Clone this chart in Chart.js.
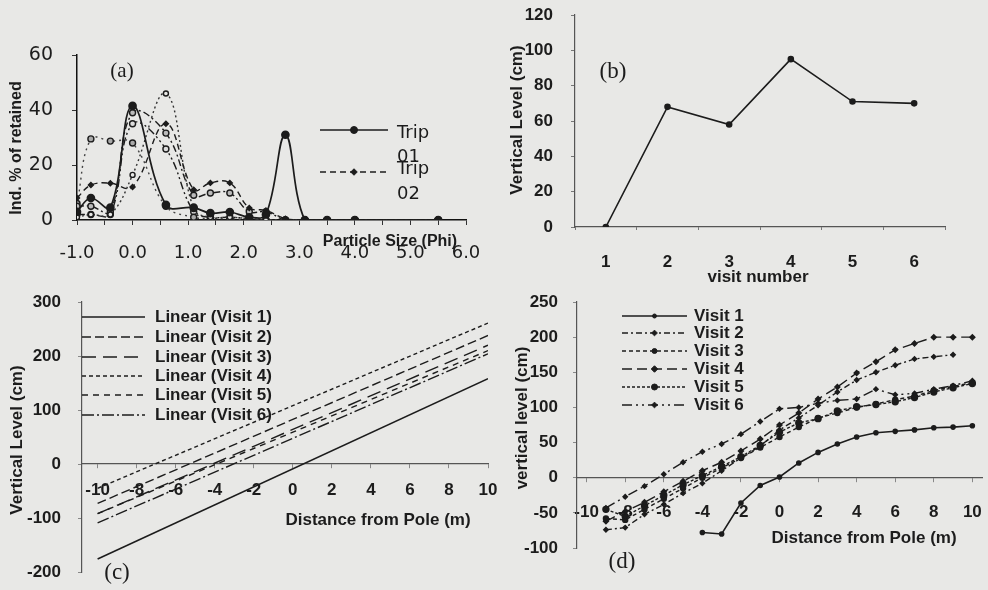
<!DOCTYPE html>
<html><head><meta charset="utf-8">
<script src="https://cdn.jsdelivr.net/npm/chart.js@4.4.1/dist/chart.umd.min.js"></script>
<style>
html,body{margin:0;padding:0;background:#e8e8e6;}
#wrap{position:relative;width:988px;height:590px;overflow:hidden;background:#e8e8e6;}
canvas{position:absolute;left:-40px;top:-40px;}
</style></head><body>
<div id="wrap">
<canvas id="ca" width="1068" height="670"></canvas>
<canvas id="cb" width="1068" height="670"></canvas>
<canvas id="cc" width="1068" height="670"></canvas>
<canvas id="cd" width="1068" height="670"></canvas>
</div>
<script>
// ---------- DATA ----------
// Panel (a): grain size distribution
const phiSizes = [-1.0, -0.75, -0.4, 0.0, 0.6, 1.1, 1.4, 1.75, 2.1, 2.4, 2.75, 3.1, 3.5, 4.0, 5.5];
const phiTicks = [-1, -0.5, 0, 0.5, 1, 1.5, 2, 2.5, 3, 3.5, 4, 4.5, 5, 5.5, 6];
const trip01 = [3, 8, 4.5, 41.5, 5.5, 4.5, 2.5, 2.9, 1, 2, 31, 0, 0, 0, 0];
const trip02 = [8, 12.7, 13.4, 12, 35, 11, 13.5, 13.5, 4.4, 3.5, 0.5, 0, 0, 0, 0];
const trip03 = [1, 2, 2, 16.4, 46, 4, 1, 1, 0.5, 0, 0, 0, 0, 0, 0];
const trip04 = [5, 5, 3, 39, 31.6, 9, 9.8, 9.8, 3, 3, 0, 0, 0, 0, 0];
const trip05 = [6, 29.5, 28.7, 28, 5, 1, 0.5, 0.5, 0, 0, 0, 0, 0, 0, 0];
const trip06 = [2, 2, 2, 35, 25.8, 3, 1, 1, 0.5, 0, 0, 0, 0, 0, 0];

// Panel (b): vertical level per visit
const visitNumbers = ['1', '2', '3', '4', '5', '6'];
const vertLevel = [0, 68, 58, 95, 71, 70];

// Panel (c): linear trend lines (values at both ends)
const trendX = [-10, 10];
const linear1 = [-176, 158];
const linear2 = [-73, 238];
const linear3 = [-92, 220];
const linear4 = [-45, 261];
const linear5 = [-92, 210];
const linear6 = [-109, 204];

// Panel (d): profiles
const distV1 = [-4, -3, -2, -1, 0, 1, 2, 3, 4, 5, 6, 7, 8, 9, 10];
const visit1 = [-78, -80, -36, -11, 1, 21, 36, 48, 58, 64, 66, 68, 71, 72, 74];
const distAll = [-9, -8, -7, -6, -5, -4, -3, -2, -1, 0, 1, 2, 3, 4, 5, 6, 7, 8, 9, 10];
const visit2 = [-74, -71, -52, -38, -22, -8, 10, 28, 45, 68, 85, 103, 122, 139, 150, 160, 169, 172, 175, null];
const visit3 = [-58, -60, -45, -30, -15, 0, 14, 28, 43, 58, 72, 85, 92, 100, 105, 111, 116, 124, 130, 135];
const visit4 = [-62, -48, -35, -20, -5, 10, 22, 38, 55, 75, 92, 112, 129, 149, 165, 182, 191, 200, 200, 200];
const visit5 = [-45, -55, -40, -25, -10, 3, 16, 30, 46, 65, 78, 84, 95, 101, 104, 108, 114, 122, 128, 134];
const visit6 = [-43, -27, -12, 5, 22, 37, 48, 62, 80, 98, 100, 106, 110, 112, 126, 118, 120, 126, 131, 138];

// ---------- HELPERS ----------
const OX = 40, OY = 40, CW = 1068, CH = 670;   // canvas offset/size (page coords + offset)
const INK = '#1c1c1c';
const BOLD = (s) => ({ family: '"Liberation Sans", Arial, sans-serif', weight: 'bold', size: s });
const pts = (xs, ys) => xs.map((x, i) => ({ x: x, y: ys[i] }));

function drawMarker(ctx, style, r, x, y, fill, stroke) {
  ctx.save();
  ctx.fillStyle = fill || stroke; ctx.strokeStyle = stroke; ctx.lineWidth = 1;
  ctx.beginPath();
  if (style === 'rectRot') {
    ctx.moveTo(x, y - r * 1.3); ctx.lineTo(x + r * 1.3, y); ctx.lineTo(x, y + r * 1.3); ctx.lineTo(x - r * 1.3, y); ctx.closePath();
  } else {
    ctx.arc(x, y, r, 0, Math.PI * 2);
  }
  ctx.fill(); ctx.stroke();
  ctx.restore();
}

const deco = {
  id: 'deco',
  afterDraw(chart, args, opts) {
    const ctx = chart.ctx;
    ctx.save();
    ctx.translate(OX, OY);
    (opts.texts || []).forEach(t => {
      ctx.save();
      ctx.font = t.font; ctx.fillStyle = INK;
      ctx.textAlign = t.align || 'center'; ctx.textBaseline = 'middle';
      ctx.translate(t.x, t.y);
      if (t.rot) ctx.rotate(t.rot);
      ctx.fillText(t.text, 0, 0);
      ctx.restore();
    });
    (opts.legend || []).forEach(it => {
      const ds = chart.data.datasets[it.ds];
      ctx.save();
      ctx.strokeStyle = ds.borderColor; ctx.lineWidth = ds.borderWidth;
      ctx.setLineDash(ds.borderDash || []);
      ctx.beginPath(); ctx.moveTo(it.x1, it.y); ctx.lineTo(it.x2, it.y); ctx.stroke();
      ctx.setLineDash([]);
      if (ds.pointRadius > 0) drawMarker(ctx, ds.pointStyle, ds.pointRadius, (it.x1 + it.x2) / 2, it.y, ds.pointBackgroundColor, ds.borderColor);
      ctx.font = it.font; ctx.fillStyle = INK; ctx.textAlign = 'left'; ctx.textBaseline = 'middle';
      const parts = it.split ? ds.label.split(' ') : [ds.label];
      const ys = it.ty || [it.y];
      parts.forEach((p, k) => ctx.fillText(p, it.tx, ys[k]));
      ctx.restore();
    });
    ctx.restore();
  }
};
Chart.register(deco);

// chart area given in page coordinates (left, top, right, bottom)
function pad(l, t, r, b, yW, xH) {
  return { left: l + OX - yW, top: t + OY, right: CW - (r + OX), bottom: CH - (b + OY) - xH };
}
const base = {
  responsive: false, animation: false, events: [],
  plugins: { legend: { display: false }, tooltip: { enabled: false } }
};
function lineDs(label, data, o) {
  return Object.assign({
    label: label, data: data, borderColor: INK, backgroundColor: INK,
    pointBackgroundColor: INK, pointBorderColor: INK, borderWidth: 1.4,
    pointRadius: 2.5, pointStyle: 'circle', tension: 0, fill: false
  }, o || {});
}

// ---------- PANEL (a) ----------
new Chart(document.getElementById('ca'), {
  type: 'line',
  data: {
    datasets: [
      lineDs('Trip 01', pts(phiSizes, trip01), { tension: 0.4, pointRadius: 3.5, borderWidth: 1.7 }),
      lineDs('Trip 02', pts(phiSizes, trip02), { tension: 0.4, borderDash: [6, 4], pointStyle: 'rectRot', pointRadius: 2.5 }),
      lineDs('Trip 03', pts(phiSizes, trip03), { tension: 0.4, borderDash: [2, 3], pointRadius: 2.5, pointBackgroundColor: '#e8e8e6', borderColor: '#333' }),
      lineDs('Trip 04', pts(phiSizes, trip04), { tension: 0.4, borderDash: [7, 3, 2, 3], pointRadius: 3, pointBackgroundColor: '#bbb' }),
      lineDs('Trip 05', pts(phiSizes, trip05), { tension: 0.4, borderDash: [2, 4], pointRadius: 3, pointBackgroundColor: '#aaa', borderColor: '#444' }),
      lineDs('Trip 06', pts(phiSizes, trip06), { tension: 0.4, borderDash: [8, 3, 2, 3, 2, 3], pointRadius: 3, pointBackgroundColor: '#ddd' })
    ]
  },
  options: Object.assign({}, base, {
    layout: { padding: pad(77, 55, 466, 220, 62, 50) },
    scales: {
      x: {
        type: 'linear', min: -1, max: 6,
        afterBuildTicks: s => { s.ticks = phiTicks.map(v => ({ value: v })); },
        afterFit: s => { s.height = 50; },
        grid: { drawOnChartArea: false, tickLength: 5, color: '#333' },
        border: { color: '#111', width: 1.5 },
        ticks: { autoSkip: false, maxRotation: 0, padding: 18, color: INK,
          font: { family: '"DejaVu Sans", sans-serif', size: 18 },
          callback: v => Number.isInteger(v) ? v.toFixed(1) : '' }
      },
      y: {
        min: 0, max: 60,
        afterBuildTicks: s => { s.ticks = [0, 20, 40, 60].map(v => ({ value: v })); },
        afterFit: s => { s.width = 62; },
        grid: { drawOnChartArea: false, tickLength: 5, color: '#333' },
        border: { color: '#111', width: 1.5 },
        ticks: { padding: 19, color: INK, font: { family: '"DejaVu Sans", sans-serif', size: 19 } }
      }
    },
    plugins: Object.assign({}, base.plugins, {
      deco: {
        texts: [
          { text: '(a)', x: 122, y: 71, font: '21px "Liberation Serif", serif' },
          { text: 'Ind. % of retained', x: 17, y: 148, rot: -Math.PI / 2, font: 'bold 16px "Liberation Sans", Arial' },
          { text: 'Particle Size (Phi)', x: 390, y: 242, font: 'bold 16px "Liberation Sans", Arial' }
        ],
        legend: [
          { ds: 0, x1: 320, x2: 388, y: 130, tx: 397, ty: [133, 157], split: true, font: '18px "DejaVu Sans", sans-serif' },
          { ds: 1, x1: 320, x2: 388, y: 172, tx: 397, ty: [169, 194], split: true, font: '18px "DejaVu Sans", sans-serif' }
        ]
      }
    })
  })
});

// ---------- PANEL (b) ----------
new Chart(document.getElementById('cb'), {
  type: 'line',
  data: {
    labels: visitNumbers,
    datasets: [lineDs('Vertical Level', vertLevel, { borderWidth: 1.6, pointRadius: 2.5 })]
  },
  options: Object.assign({}, base, {
    layout: { padding: pad(575, 15, 945, 227, 65, 45) },
    scales: {
      x: {
        type: 'category', offset: true,
        afterFit: s => { s.height = 45; },
        grid: { drawOnChartArea: false, offset: true, tickLength: 3, color: '#777' },
        border: { color: '#555', width: 1.2, dash: [6, 2, 1, 2] },
        ticks: { padding: 22, color: INK, font: BOLD(17) }
      },
      y: {
        min: 0, max: 120,
        afterBuildTicks: s => { s.ticks = [0, 20, 40, 60, 80, 100, 120].map(v => ({ value: v })); },
        afterFit: s => { s.width = 65; },
        grid: { drawOnChartArea: false, tickLength: 4, color: '#777' },
        border: { color: '#555', width: 1.2, dash: [6, 2, 1, 2] },
        ticks: { padding: 18, color: INK, font: BOLD(17) }
      }
    },
    plugins: Object.assign({}, base.plugins, {
      deco: {
        texts: [
          { text: '(b)', x: 613, y: 72, font: '23px "Liberation Serif", serif' },
          { text: 'Vertical Level (cm)', x: 517, y: 120, rot: -Math.PI / 2, font: 'bold 17px "Liberation Sans", Arial' },
          { text: 'visit number', x: 758, y: 277, font: 'bold 17px "Liberation Sans", Arial' }
        ]
      }
    })
  })
});

// ---------- PANEL (c) ----------
new Chart(document.getElementById('cc'), {
  type: 'line',
  data: {
    datasets: [
      lineDs('Linear (Visit 1)', pts(trendX, linear1), { pointRadius: 0, borderWidth: 1.6 }),
      lineDs('Linear (Visit 2)', pts(trendX, linear2), { pointRadius: 0, borderDash: [9, 4] }),
      lineDs('Linear (Visit 3)', pts(trendX, linear3), { pointRadius: 0, borderDash: [14, 7] }),
      lineDs('Linear (Visit 4)', pts(trendX, linear4), { pointRadius: 0, borderDash: [4, 3] }),
      lineDs('Linear (Visit 5)', pts(trendX, linear5), { pointRadius: 0, borderDash: [6, 5] }),
      lineDs('Linear (Visit 6)', pts(trendX, linear6), { pointRadius: 0, borderDash: [12, 3, 2, 3] })
    ]
  },
  options: Object.assign({}, base, {
    layout: { padding: pad(82, 302, 488, 572, 70, 0) },
    scales: {
      x: {
        type: 'linear', min: -10.8, max: 10, position: { y: 0 },
        afterBuildTicks: s => { s.ticks = [-10, -8, -6, -4, -2, 0, 2, 4, 6, 8, 10].map(v => ({ value: v })); },
        afterFit: s => { s.height = 0; },
        grid: { drawOnChartArea: false, tickLength: 4, color: '#888' },
        border: { color: '#555', width: 1.2, dash: [7, 2, 1, 2] },
        ticks: { autoSkip: false, maxRotation: 0, padding: 12, color: INK, font: BOLD(17) }
      },
      y: {
        min: -200, max: 300,
        afterBuildTicks: s => { s.ticks = [-200, -100, 0, 100, 200, 300].map(v => ({ value: v })); },
        afterFit: s => { s.width = 70; },
        grid: { drawOnChartArea: false, tickLength: 4, color: '#888' },
        border: { color: '#555', width: 1.2, dash: [7, 2, 1, 2] },
        ticks: { padding: 17, color: INK, font: BOLD(17) }
      }
    },
    plugins: Object.assign({}, base.plugins, {
      deco: {
        texts: [
          { text: '(c)', x: 117, y: 573, font: '23px "Liberation Serif", serif' },
          { text: 'Vertical Level (cm)', x: 17, y: 440, rot: -Math.PI / 2, font: 'bold 17px "Liberation Sans", Arial' },
          { text: 'Distance from Pole (m)', x: 378, y: 520, font: 'bold 17px "Liberation Sans", Arial' }
        ],
        legend: [0, 1, 2, 3, 4, 5].map((k) => ({
          ds: k, x1: 82, x2: 145, y: [317, 337, 357, 376, 395, 415][k], tx: 155, font: 'bold 17px "Liberation Sans", Arial'
        }))
      }
    })
  })
});

// ---------- PANEL (d) ----------
new Chart(document.getElementById('cd'), {
  type: 'line',
  data: {
    datasets: [
      lineDs('Visit 1', pts(distV1, visit1), { pointRadius: 2, borderWidth: 1.6 }),
      lineDs('Visit 2', pts(distAll, visit2), { borderDash: [6, 3, 2, 3], pointStyle: 'rectRot', pointRadius: 2.2 }),
      lineDs('Visit 3', pts(distAll, visit3), { borderDash: [4, 3], pointRadius: 2.5 }),
      lineDs('Visit 4', pts(distAll, visit4), { borderDash: [10, 5], pointStyle: 'rectRot', pointRadius: 2.5 }),
      lineDs('Visit 5', pts(distAll, visit5), { borderDash: [3, 2], pointRadius: 3 }),
      lineDs('Visit 6', pts(distAll, visit6), { borderDash: [10, 4, 2, 4, 2, 4], pointStyle: 'rectRot', pointRadius: 2.2 })
    ]
  },
  options: Object.assign({}, base, {
    layout: { padding: pad(577, 302, 982, 548, 65, 0) },
    scales: {
      x: {
        type: 'linear', min: -10.5, max: 10.5, position: { y: 0 },
        afterBuildTicks: s => { s.ticks = [-10, -8, -6, -4, -2, 0, 2, 4, 6, 8, 10].map(v => ({ value: v })); },
        afterFit: s => { s.height = 0; },
        grid: { drawOnChartArea: false, tickLength: 4, color: '#888' },
        border: { color: '#555', width: 1.2, dash: [7, 2, 1, 2] },
        ticks: { autoSkip: false, maxRotation: 0, padding: 20, color: INK, font: BOLD(17) }
      },
      y: {
        min: -100, max: 250,
        afterBuildTicks: s => { s.ticks = [-100, -50, 0, 50, 100, 150, 200, 250].map(v => ({ value: v })); },
        afterFit: s => { s.width = 65; },
        grid: { drawOnChartArea: false, tickLength: 4, color: '#888' },
        border: { color: '#555', width: 1.2, dash: [7, 2, 1, 2] },
        ticks: { padding: 15, color: INK, font: BOLD(17) }
      }
    },
    plugins: Object.assign({}, base.plugins, {
      deco: {
        texts: [
          { text: '(d)', x: 622, y: 562, font: '23px "Liberation Serif", serif' },
          { text: 'vertical level (cm)', x: 522, y: 418, rot: -Math.PI / 2, font: 'bold 17px "Liberation Sans", Arial' },
          { text: 'Distance from Pole (m)', x: 864, y: 538, font: 'bold 17px "Liberation Sans", Arial' }
        ],
        legend: [0, 1, 2, 3, 4, 5].map((k) => ({
          ds: k, x1: 622, x2: 687, y: [316, 333, 351, 369, 387, 405][k], tx: 694, font: 'bold 17px "Liberation Sans", Arial'
        }))
      }
    })
  })
});
</script>
</body></html>
